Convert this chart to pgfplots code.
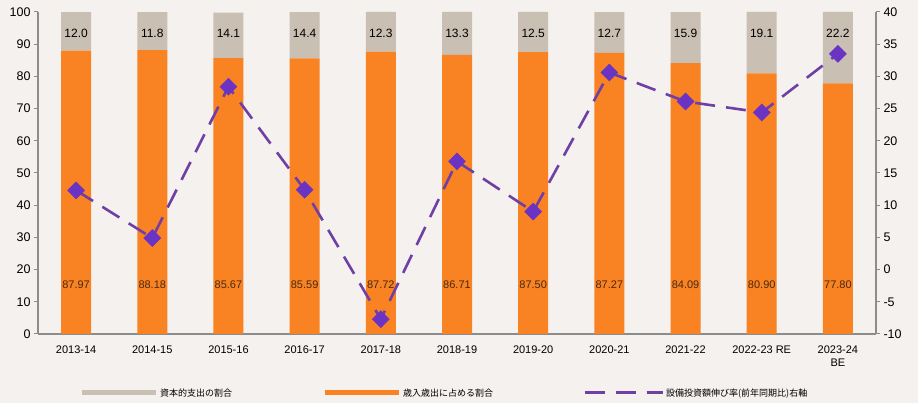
\documentclass[border=0pt]{standalone}
\usepackage{pgfplots}
\pgfplotsset{compat=1.18}
\usepackage{pgfplotstable}
\usepackage{fontspec}
\setmainfont{Liberation Sans}
\newfontfamily\jp{Noto Sans CJK JP}
\definecolor{bgc}{HTML}{F4F1EE}
\definecolor{greybar}{HTML}{C9BFB2}
\definecolor{orangebar}{HTML}{F98222}
\definecolor{lineP}{HTML}{6F3FA6}
\definecolor{markP}{HTML}{6A33C4}
\definecolor{axisg}{HTML}{8C8C8C}
\definecolor{lab}{HTML}{4A2A0E}

\pgfplotstableread{
x orange grey growth olab
0 87.97 12.0 12.3 87.97
1 88.18 11.8 4.9 88.18
2 85.67 14.1 28.4 85.67
3 85.59 14.4 12.4 85.59
4 87.72 12.3 -7.7 87.72
5 86.71 13.3 16.8 86.71
6 87.50 12.5 9.0 87.50
7 87.27 12.7 30.6 87.27
8 84.09 15.9 26.1 84.09
9 80.90 19.1 24.4 80.90
10 77.80 22.2 33.5 77.80
}\data

\pgfplotsset{
  common/.style={
    at={(0,0)}, anchor=south west,
    width=838pt, height=322pt, scale only axis,
    xmin=-0.5, xmax=10.5,
    /pgf/number format/assume math mode=true,
  }
}

\begin{document}
\begin{tikzpicture}
\fill[bgc] (-38pt,-69pt) rectangle (880pt,334pt);
\path[use as bounding box] (-38pt,-69pt) rectangle (880pt,334pt);

% bars
\begin{axis}[common,
  ybar stacked, bar width=30pt,
  ymin=0, ymax=100, ytick={0,10,...,100},
  axis x line*=bottom, axis y line*=left,
  axis line style={draw=axisg, line width=1.2pt},
  tick style={draw=axisg, line width=1pt},
  major tick length=4pt, tick align=outside,
  xtick={0,...,10},
  xticklabels={2013-14,2014-15,2015-16,2016-17,2017-18,2018-19,2019-20,2020-21,2021-22,2022-23 RE,{2023-24\\BE}},
  xticklabel style={font=\fontsize{11}{13.5}\selectfont, align=center, anchor=north, yshift=-4pt},
  x tick style={draw=none},
  extra x ticks={-0.5,0.5,1.5,2.5,3.5,4.5,5.5,6.5,7.5,8.5,9.5,10.5},
  extra x tick labels={},
  extra x tick style={tick style={draw=axisg, line width=1pt}, major tick length=4pt},
  yticklabel style={font=\fontsize{12.5}{14}\selectfont},
]
\addplot[fill=orangebar, draw=none] table[x=x, y=orange] {\data};
\addplot[fill=greybar, draw=none] table[x=x, y=grey] {\data};
\end{axis}

% labels
\begin{axis}[common, hide axis, ymin=0, ymax=100]
\addplot[draw=none, mark=none, nodes near coords, point meta=explicit symbolic,
  nodes near coords style={anchor=center, font=\fontsize{11}{12}\selectfont, text=lab}]
  table[x=x, y expr=15.2, meta=olab] {\data};
\addplot[draw=none, mark=none, nodes near coords, point meta=explicit symbolic,
  nodes near coords style={anchor=center, font=\fontsize{12}{13}\selectfont, text=black}]
  table[x=x, y expr=93.5, meta=grey] {\data};
\end{axis}

% line
\begin{axis}[common,
  ymin=-10, ymax=40, ytick={-10,-5,...,40},
  axis x line=none, axis y line*=right,
  axis line style={draw=axisg, line width=1.2pt},
  tick style={draw=axisg, line width=1pt},
  major tick length=4pt, tick align=outside,
  yticklabel style={font=\fontsize{12.5}{14}\selectfont},
  legend columns=3,
  legend style={at={(0,0)}, anchor=west, xshift=41pt, yshift=-59pt,
    draw=none, fill=none, inner sep=0pt,
    font=\jp\fontsize{9}{10}\selectfont,
    /tikz/every even column/.append style={column sep=88pt}},
]
\addplot[lineP, line width=2.6pt, dash pattern=on 20pt off 11pt,
  mark=square*, mark size=6pt,
  mark options={solid, rotate=45, fill=markP, draw=markP, line width=0.5pt},
  forget plot]
  table[x=x, y=growth] {\data};
\addlegendimage{legend image code/.code={\draw[greybar, line width=5pt] (0pt,0pt) -- (74pt,0pt);}}
\addlegendentry{資本的支出の割合}
\addlegendimage{legend image code/.code={\draw[orangebar, line width=5pt] (0pt,0pt) -- (74pt,0pt);}}
\addlegendentry{歳入歳出に占める割合}
\addlegendimage{legend image code/.code={\draw[lineP, line width=3pt, dash pattern=on 20pt off 11pt] (0pt,0pt) -- (78pt,0pt);}}
\addlegendentry{設備投資額伸び率(前年同期比)右軸}
\end{axis}
\end{tikzpicture}
\end{document}
